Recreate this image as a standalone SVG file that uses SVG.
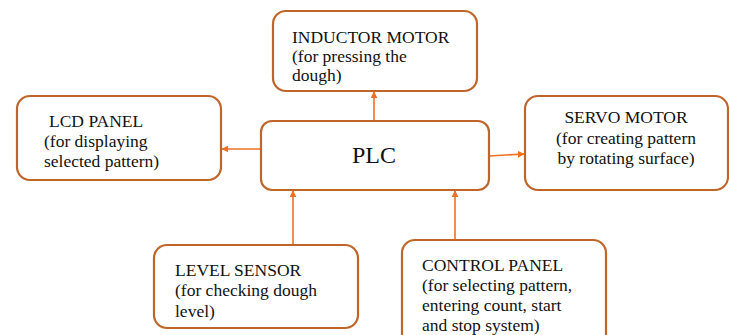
<svg xmlns="http://www.w3.org/2000/svg" width="729" height="335" viewBox="0 0 729 335">
<defs>
<marker id="ah" viewBox="0 0 10 10" refX="9" refY="5" markerWidth="7" markerHeight="7" markerUnits="userSpaceOnUse" orient="auto">
<path d="M0,0 L10,5 L0,10 z" fill="#F07020"/>
</marker>
<style>
.box{fill:#fff;stroke:#C0652A;stroke-width:2.2}
.t{font-size:17.5px;fill:#111}
.big{font-size:24px}
.c{stroke:#F07020;stroke-width:1.6;fill:none;marker-end:url(#ah)}
</style>
</defs>
<rect width="729" height="335" fill="#fff"/>
<g id="connectors">
<line class="c" x1="374" y1="121" x2="374" y2="92"/>
<line class="c" x1="261" y1="149" x2="222" y2="149"/>
<line class="c" x1="489" y1="156" x2="524" y2="154"/>
<line class="c" x1="293" y1="245" x2="293" y2="191"/>
<line class="c" x1="455" y1="240" x2="455" y2="191"/>
</g>
<g font-family="'Liberation Serif', 'DejaVu Serif', serif">
<g id="inductor">
<rect class="box" x="273" y="11" width="204" height="80" rx="13"/>
<text class="t" x="292" y="43">INDUCTOR MOTOR</text>
<text class="t" x="292" y="62">(for pressing the</text>
<text class="t" x="292" y="81">dough)</text>
</g>
<g id="lcd">
<rect class="box" x="17" y="96" width="204" height="84" rx="13"/>
<text class="t" x="49" y="127">LCD PANEL</text>
<text class="t" x="44" y="147">(for displaying</text>
<text class="t" x="44" y="167">selected pattern)</text>
</g>
<g id="plc">
<rect class="box" x="261" y="121" width="228" height="69" rx="11"/>
<text class="t big" x="374" y="163" text-anchor="middle">PLC</text>
</g>
<g id="servo">
<rect class="box" x="525" y="96" width="203" height="94" rx="13"/>
<text class="t" x="626" y="123" text-anchor="middle">SERVO MOTOR</text>
<text class="t" x="626" y="144" text-anchor="middle">(for creating pattern</text>
<text class="t" x="626" y="164" text-anchor="middle">by rotating surface)</text>
</g>
<g id="level">
<rect class="box" x="154" y="245" width="204" height="83" rx="13"/>
<text class="t" x="175" y="276">LEVEL SENSOR</text>
<text class="t" x="175" y="296">(for checking dough</text>
<text class="t" x="175" y="317">level)</text>
</g>
<g id="control">
<rect class="box" x="402" y="240" width="204" height="110" rx="13"/>
<text class="t" x="422" y="271">CONTROL PANEL</text>
<text class="t" x="422" y="291">(for selecting pattern,</text>
<text class="t" x="422" y="311">entering count, start</text>
<text class="t" x="422" y="331">and stop system)</text>
</g>
</g>
</svg>
